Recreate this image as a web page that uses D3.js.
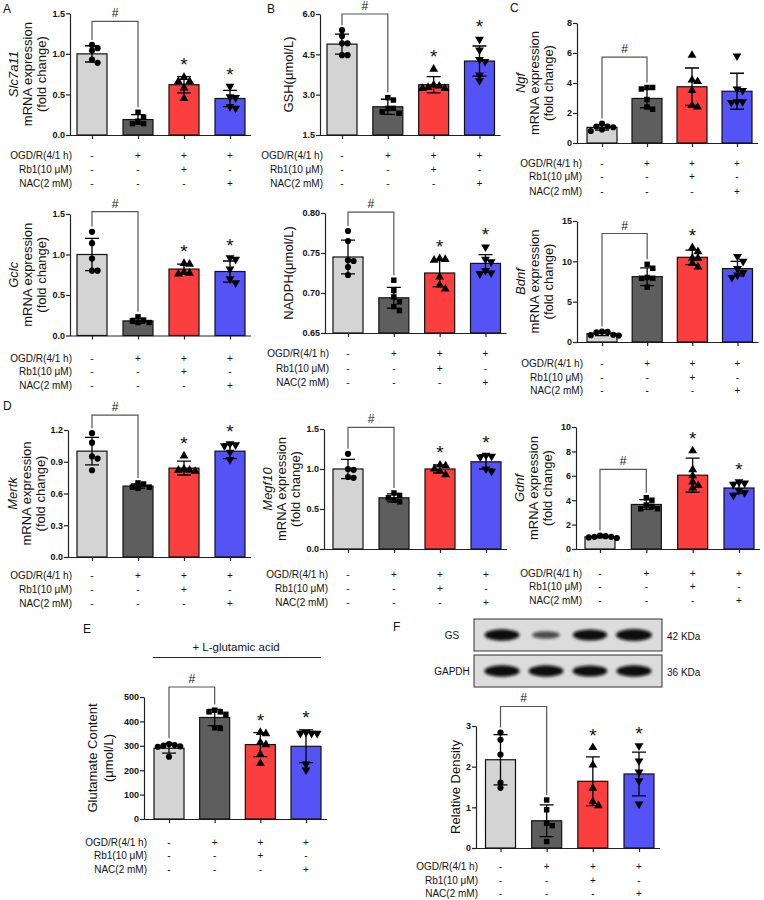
<!DOCTYPE html>
<html>
<head>
<meta charset="utf-8">
<script src="https://cdn.jsdelivr.net/npm/d3@7"></script>
<style>
  body { margin: 0; background: #fff; }
  text { font-family: "Liberation Sans", Arial, sans-serif; fill: #111; }
</style>
</head>
<body>
<div id="fig"></div>
<script>
// groups, treatment table
const groups = ["Control", "OGD/R", "OGD/R+Rb1", "OGD/R+NAC"];
const rowLabels = ["OGD/R(4/1 h)", "Rb1(10 μM)", "NAC(2 mM)"];
const rowSigns = [["-", "+", "+", "+"], ["-", "-", "+", "-"], ["-", "-", "-", "+"]];

// A - Slc7a11
const slcTicks = [0, 0.5, 1.0, 1.5];
const slcMean = [1.0, 0.19, 0.62, 0.45];
const slcSd = [0.10, 0.06, 0.10, 0.10];
const slcPts = [[1.04, 0.89, 1.07, 0.93, 1.11], [0.17, 0.28, 0.14, 0.14, 0.22], [0.66, 0.66, 0.71, 0.58, 0.45], [0.33, 0.47, 0.60, 0.35, 0.46]];
const slcStars = [false, false, true, true];
const slcBracket = 1.40;

// A - Gclc
const gclcTicks = [0, 0.5, 1.0, 1.5];
const gclcMean = [1.0, 0.18, 0.82, 0.79];
const gclcSd = [0.20, 0.03, 0.06, 0.13];
const gclcPts = [[0.80, 1.28, 1.14, 0.95, 0.80], [0.23, 0.18, 0.16, 0.16, 0.19], [0.89, 0.76, 0.77, 0.78, 0.88], [0.65, 0.94, 0.82, 0.96, 0.70]];
const gclcStars = [false, false, true, true];
const gclcBracket = 1.53;

// B - GSH
const gshTicks = [1.5, 3.0, 4.5, 6.0];
const gshMean = [4.88, 2.55, 3.37, 4.25];
const gshSd = [0.37, 0.28, 0.30, 0.56];
const gshPts = [[5.18, 4.91, 4.47, 5.40, 4.91, 4.47], [2.89, 2.80, 2.49, 2.31, 2.37, 2.49], [3.95, 3.36, 3.23, 3.23, 3.27, 3.32], [5.06, 4.66, 4.31, 4.23, 3.73, 3.52]];
const gshStars = [false, false, true, true];
const gshBracket = 6.0;

// B - NADPH
const nadphTicks = [0.65, 0.70, 0.75, 0.80];
const nadphMean = [0.745, 0.694, 0.725, 0.737];
const nadphSd = [0.021, 0.013, 0.017, 0.011];
const nadphPts = [[0.7775, 0.765, 0.741, 0.74, 0.7325, 0.7225], [0.716, 0.703, 0.695, 0.689, 0.683, 0.678], [0.743, 0.742, 0.741, 0.72, 0.71, 0.705], [0.7575, 0.742, 0.739, 0.728, 0.725, 0.724]];
const nadphStars = [false, false, true, true];
const nadphBracket = 0.801;

// C - Ngf
const ngfTicks = [0, 2, 4, 6, 8];
const ngfMean = [1.04, 2.97, 3.75, 3.45];
const ngfSd = [0.18, 0.62, 1.25, 1.2];
const ngfPts = [[1.1, 0.9, 1.3, 0.8, 1.05, 1.1], [3.6, 2.4, 3.7, 3.7, 2.9, 2.25], [5.85, 4.1, 4.2, 3.5, 2.5, 2.4], [5.8, 3.6, 3.5, 2.75, 2.7, 2.75]];
const ngfStars = [false, false, false, false];
const ngfBracket = 5.73;

// C - Bdnf
const bdnfTicks = [0, 5, 10, 15];
const bdnfMean = [1.05, 8.1, 10.5, 9.1];
const bdnfSd = [0.25, 1.1, 0.9, 0.9];
const bdnfPts = [[1.3, 1.2, 0.9, 0.8, 0.85, 1.25], [9.63, 9.14, 8.0, 7.9, 7.9, 6.8], [11.7, 11.2, 10.4, 9.75, 9.3, 10.4], [10.6, 10.0, 8.6, 8.3, 8.0, 9.1]];
const bdnfStars = [false, false, true, false];
const bdnfBracket = 13.45;

// D - Mertk
const mertkTicks = [0, 0.3, 0.6, 0.9, 1.2];
const mertkMean = [1.0, 0.67, 0.84, 1.0];
const mertkSd = [0.13, 0.02, 0.065, 0.07];
const mertkPts = [[1.17, 1.08, 0.95, 0.93, 0.82], [0.70, 0.69, 0.66, 0.66, 0.65], [0.955, 0.82, 0.82, 0.83, 0.81], [1.07, 1.06, 1.05, 0.99, 0.92]];
const mertkStars = [false, false, true, true];
const mertkBracket = 1.34;

// D - Megf10
const megfTicks = [0, 0.5, 1.0, 1.5];
const megfMean = [1.0, 0.64, 1.0, 1.09];
const megfSd = [0.12, 0.05, 0.05, 0.09];
const megfPts = [[1.19, 0.99, 0.90, 0.89, 1.0], [0.70, 0.67, 0.64, 0.61, 0.59], [1.05, 1.04, 1.0, 0.97, 0.93], [1.17, 1.16, 1.15, 1.0, 0.97]];
const megfStars = [false, false, true, true];
const megfBracket = 1.52;

// D - Gdnf
const gdnfTicks = [0, 2, 4, 6, 8, 10];
const gdnfMean = [1.0, 3.65, 6.05, 5.0];
const gdnfSd = [0.08, 0.4, 1.4, 0.45];
const gdnfPts = [[1.1, 1.0, 0.95, 0.9, 1.05, 1.0], [4.2, 4.0, 3.6, 3.5, 3.3, 3.3], [8.05, 6.5, 6.0, 5.5, 5.0, 5.2], [5.5, 5.4, 5.3, 4.8, 4.6, 4.4]];
const gdnfStars = [false, false, true, true];
const gdnfBracket = 6.53;

// E - glutamate
const gluTicks = [0, 100, 200, 300, 400, 500];
const gluMean = [290, 416, 305, 298];
const gluSd = [20, 33, 49, 67];
const gluPts = [[300, 298, 255, 296, 303, 307], [446, 439, 429, 439, 374, 371], [355, 350, 314, 305, 265, 228], [355, 351, 351, 351, 201, 225]];
const gluStars = [false, false, true, true];
const gluBracket = 541;

// F - GS relative density + blot band strength
const gsTicks = [0, 1, 2, 3];
const gsMean = [2.17, 0.67, 1.64, 1.82];
const gsSd = [0.62, 0.39, 0.60, 0.54];
const gsPts = [[2.84, 2.66, 2.30, 1.61, 1.48], [1.18, 0.94, 0.61, 0.55, 0.16], [2.47, 2.04, 1.47, 1.14, 1.04], [2.51, 2.14, 1.87, 1.65, 1.08]];
const gsStars = [false, false, true, true];
const gsBracket = 3.48;
const gsBand = [0.92, 0.4, 0.88, 1.0];
const gapdhBand = [0.95, 0.92, 0.9, 0.93];

const fills = ["#d4d4d4", "#5e5e5e", "#fb3e3e", "#5353f6"];
const shapes = [d3.symbolCircle, d3.symbolSquare, d3.symbolTriangle, d3.symbolTriangle];

const svg = d3.select("#fig").append("svg")
  .attr("width", 764).attr("height", 900)
  .style("display", "block");
svg.append("rect").attr("width", 764).attr("height", 900).attr("fill", "#fff");

const mrna = g => [[g, true], ["mRNA expression"], ["(fold change)"]];

const panels = [
  { mean: slcMean, sd: slcSd, pts: slcPts, stars: slcStars, bracket: slcBracket, ticks: slcTicks,
    domain: [0, 1.5], fmt: ".1f", axisX: 70, yTop: 13.3, yBot: 135, cx: [92, 230], rows: [155, 169, 183], rowX: 72,
    title: mrna("Slc7a11"), titleX: [13, 27, 41] },
  { mean: gclcMean, sd: gclcSd, pts: gclcPts, stars: gclcStars, bracket: gclcBracket, ticks: gclcTicks,
    domain: [0, 1.5], fmt: ".1f", axisX: 70, yTop: 214, yBot: 335.5, cx: [92, 230], rows: [358, 371, 385], rowX: 72,
    title: mrna("Gclc"), titleX: [13, 27, 41] },
  { mean: gshMean, sd: gshSd, pts: gshPts, stars: gshStars, bracket: gshBracket, ticks: gshTicks,
    domain: [1.5, 6], fmt: ".1f", axisX: 320, yTop: 14, yBot: 135, cx: [342, 479.5], rows: [155, 169, 183], rowX: 323,
    title: [["GSH(μmol/L)"]], titleX: [288] },
  { mean: nadphMean, sd: nadphSd, pts: nadphPts, stars: nadphStars, bracket: nadphBracket, ticks: nadphTicks,
    domain: [0.65, 0.80], fmt: ".2f", axisX: 325, yTop: 213, yBot: 333, cx: [348, 485.5], rows: [353, 368, 382], rowX: 329,
    title: [["NADPH(μmol/L)"]], titleX: [288] },
  { mean: ngfMean, sd: ngfSd, pts: ngfPts, stars: ngfStars, bracket: ngfBracket, ticks: ngfTicks,
    domain: [0, 8], fmt: "d", axisX: 577, yTop: 23, yBot: 143, cx: [602, 737], rows: [163, 176, 191], rowX: 582,
    title: mrna("Ngf"), titleX: [520, 534, 548] },
  { mean: bdnfMean, sd: bdnfSd, pts: bdnfPts, stars: bdnfStars, bracket: bdnfBracket, ticks: bdnfTicks,
    domain: [0, 15], fmt: "d", axisX: 577, yTop: 221, yBot: 342, cx: [602, 737.5], rows: [363, 377, 390], rowX: 583,
    title: mrna("Bdnf"), titleX: [520, 534, 548] },
  { mean: mertkMean, sd: mertkSd, pts: mertkPts, stars: mertkStars, bracket: mertkBracket, ticks: mertkTicks,
    domain: [0, 1.2], fmt: ".1f", axisX: 68, yTop: 430, yBot: 557, cx: [92, 230], rows: [575, 589, 603], rowX: 72,
    title: mrna("Mertk"), titleX: [12, 26, 40] },
  { mean: megfMean, sd: megfSd, pts: megfPts, stars: megfStars, bracket: megfBracket, ticks: megfTicks,
    domain: [0, 1.5], fmt: ".1f", axisX: 324, yTop: 429, yBot: 549, cx: [348, 486], rows: [574, 588, 602], rowX: 328,
    title: mrna("Megf10"), titleX: [267, 281, 295] },
  { mean: gdnfMean, sd: gdnfSd, pts: gdnfPts, stars: gdnfStars, bracket: gdnfBracket, ticks: gdnfTicks,
    domain: [0, 10], fmt: "d", axisX: 576, yTop: 427, yBot: 549, cx: [600, 739], rows: [573, 586, 600], rowX: 582,
    title: mrna("Gdnf"), titleX: [519, 533, 547] },
  { mean: gluMean, sd: gluSd, pts: gluPts, stars: gluStars, bracket: gluBracket, ticks: gluTicks,
    domain: [0, 500], fmt: "d", axisX: 144, yTop: 697, yBot: 819, cx: [169, 306], rows: [842, 855, 869], rowX: 147,
    title: [["Glutamate Content"], ["(μmol/L)"]], titleX: [92, 108] },
  { mean: gsMean, sd: gsSd, pts: gsPts, stars: gsStars, bracket: gsBracket, ticks: gsTicks,
    domain: [0, 3], fmt: "d", axisX: 476, yTop: 726, yBot: 848, cx: [500.5, 639], rows: [866, 880, 893], rowX: 478,
    title: [["Relative Density"]], titleX: [455] }
];

// spread points sideways so they don't overlap (simple beeswarm)
function swarm(vals, y) {
  const d = 5.6, placed = [];
  const order = vals.map((v, i) => i).sort((a, b) => vals[b] - vals[a]);
  const out = new Array(vals.length);
  order.forEach(i => {
    const py = y(vals[i]);
    for (let k = 0; k < 20; k++) {
      const off = (k % 2 ? 1 : -1) * Math.ceil(k / 2) * d;
      if (placed.every(p => Math.hypot(p[0] - off, p[1] - py) >= 5.2)) {
        placed.push([off, py]);
        out[i] = { v: vals[i], dx: off };
        break;
      }
    }
  });
  return out;
}

function drawPanel(p) {
  const g = svg.append("g");
  const y = d3.scaleLinear().domain(p.domain).range([p.yBot, p.yTop]);
  const x = d3.scalePoint().domain(groups).range(p.cx);
  const bw = 30;
  const xEnd = p.cx[1] + bw / 2 + 6;

  // y axis
  g.append("g")
    .attr("transform", `translate(${p.axisX},0)`)
    .call(d3.axisLeft(y).tickValues(p.ticks).tickFormat(d3.format(p.fmt)).tickSize(4).tickSizeOuter(0))
    .call(a => a.select(".domain").attr("stroke", "#222").attr("stroke-width", 1.2))
    .call(a => a.selectAll(".tick line").attr("stroke", "#222").attr("stroke-width", 1.2))
    .call(a => a.selectAll(".tick text").attr("x", -5).attr("fill", "#111")
      .style("font-size", "9px").style("font-weight", "bold").style("font-family", "Liberation Sans, Arial"));

  // x axis
  g.append("line")
    .attr("x1", p.axisX).attr("x2", xEnd).attr("y1", p.yBot + 0.5).attr("y2", p.yBot + 0.5)
    .attr("stroke", "#222").attr("stroke-width", 1.2);
  g.append("g")
    .attr("transform", `translate(0,${p.yBot})`)
    .call(d3.axisBottom(x).tickSize(4).tickFormat(""))
    .call(a => a.select(".domain").remove())
    .call(a => a.selectAll(".tick line").attr("stroke", "#222").attr("stroke-width", 1.2));

  // bars
  g.selectAll(".bar").data(groups).enter().append("rect")
    .attr("x", d => x(d) - bw / 2)
    .attr("width", bw)
    .attr("y", (d, i) => y(p.mean[i]))
    .attr("height", (d, i) => p.yBot - y(p.mean[i]))
    .attr("fill", (d, i) => fills[i])
    .attr("stroke", "#111").attr("stroke-width", 1.2);

  // points
  groups.forEach((grp, i) => {
    const sym = d3.symbol().type(shapes[i]).size(i === 0 ? 30 : i === 1 ? 30 : 34);
    g.selectAll(null).data(swarm(p.pts[i], y)).enter().append("path")
      .attr("d", sym)
      .attr("transform", d => `translate(${x(grp) + d.dx},${y(d.v)})` + (i === 3 ? " rotate(180)" : ""))
      .attr("fill", "#000");
  });

  // error bars (mean ± SD)
  groups.forEach((grp, i) => {
    const cx = x(grp), hi = y(p.mean[i] + p.sd[i]), lo = y(Math.max(p.domain[0], p.mean[i] - p.sd[i]));
    g.append("path")
      .attr("d", `M${cx},${lo}V${hi}M${cx - 7},${hi}H${cx + 7}M${cx - 7},${lo}H${cx + 7}`)
      .attr("stroke", "#000").attr("stroke-width", 1.3).attr("fill", "none");
  });

  const groupTop = i => y(Math.max(d3.max(p.pts[i]), p.mean[i] + p.sd[i]));

  // stars
  groups.forEach((grp, i) => {
    if (!p.stars[i]) return;
    g.append("text").attr("x", x(grp)).attr("y", groupTop(i) + 4)
      .attr("dy", "-0.2em")
      .attr("text-anchor", "middle").style("font-size", "19px").text("*")
      .attr("y", groupTop(i) - 2);
  });

  // # bracket between control and OGD/R
  const x1 = x(groups[0]), x2 = x(groups[1]), yb = y(p.bracket);
  g.append("path")
    .attr("d", `M${x1},${groupTop(0) - 5}V${yb}H${x2}V${groupTop(1) - 5}`)
    .attr("fill", "none").attr("stroke", "#555").attr("stroke-width", 1.2);
  g.append("text").attr("x", (x1 + x2) / 2).attr("y", yb - 4)
    .attr("text-anchor", "middle").style("font-size", "12px").text("#");

  // treatment table
  rowLabels.forEach((lab, r) => {
    g.append("text").attr("x", p.rowX).attr("y", p.rows[r]).attr("dy", "0.35em")
      .attr("text-anchor", "end").style("font-size", "10px").text(lab);
    groups.forEach((grp, i) => {
      g.append("text").attr("x", x(grp)).attr("y", p.rows[r]).attr("dy", "0.35em")
        .attr("text-anchor", "middle").style("font-size", "10px").text(rowSigns[r][i]);
    });
  });

  // y title
  const cy = (p.yTop + p.yBot) / 2;
  p.title.forEach((t, k) => {
    g.append("text")
      .attr("transform", `translate(${p.titleX[k]},${cy}) rotate(-90)`)
      .attr("dy", "0.35em").attr("text-anchor", "middle")
      .style("font-size", "13px").style("font-style", t[1] ? "italic" : "normal")
      .text(t[0]);
  });
}

panels.forEach(drawPanel);

// panel letters
[["A", 3, 13], ["B", 267, 13], ["C", 510, 12], ["D", 3, 410], ["E", 83, 633], ["F", 393, 631]]
  .forEach(l => svg.append("text").attr("x", l[1]).attr("y", l[2]).style("font-size", "12px").text(l[0]));

// E header
svg.append("text").attr("x", 236).attr("y", 651).attr("text-anchor", "middle")
  .style("font-size", "11.5px").text("+ L-glutamic acid");
svg.append("line").attr("x1", 153).attr("x2", 321).attr("y1", 657.5).attr("y2", 657.5)
  .attr("stroke", "#222").attr("stroke-width", 1.2);

// F western blot
const defs = svg.append("defs");
defs.append("filter").attr("id", "blur").attr("x", "-30%").attr("y", "-60%").attr("width", "160%").attr("height", "220%")
  .append("feGaussianBlur").attr("stdDeviation", 1.5);
const bx = d3.scalePoint().domain(groups).range([502, 634]);
const blots = [
  { band: gsBand, y0: 619, label: "GS", kda: "42 KDa" },
  { band: gapdhBand, y0: 655, label: "GAPDH", kda: "36 KDa" }
];
blots.forEach(b => {
  svg.append("rect").attr("x", 474).attr("y", b.y0).attr("width", 188).attr("height", 32)
    .attr("fill", "#dcdcdc").attr("stroke", "#333").attr("stroke-width", 1);
  svg.selectAll(null).data(groups).enter().append("ellipse")
    .attr("cx", d => bx(d))
    .attr("cy", b.y0 + 16)
    .attr("rx", (d, i) => 11 + 7 * b.band[i])
    .attr("ry", (d, i) => 2.5 + 3.4 * b.band[i])
    .attr("fill", "#0a0a0a")
    .attr("opacity", (d, i) => Math.min(1, 0.3 + b.band[i]))
    .attr("filter", "url(#blur)");
  svg.append("text").attr("x", 452).attr("y", b.y0 + 16).attr("dy", "0.35em").attr("text-anchor", "middle")
    .style("font-size", "10px").text(b.label);
  svg.append("text").attr("x", 667).attr("y", b.y0 + 17).attr("dy", "0.35em")
    .style("font-size", "10px").text(b.kda);
});
</script>
</body>
</html>
